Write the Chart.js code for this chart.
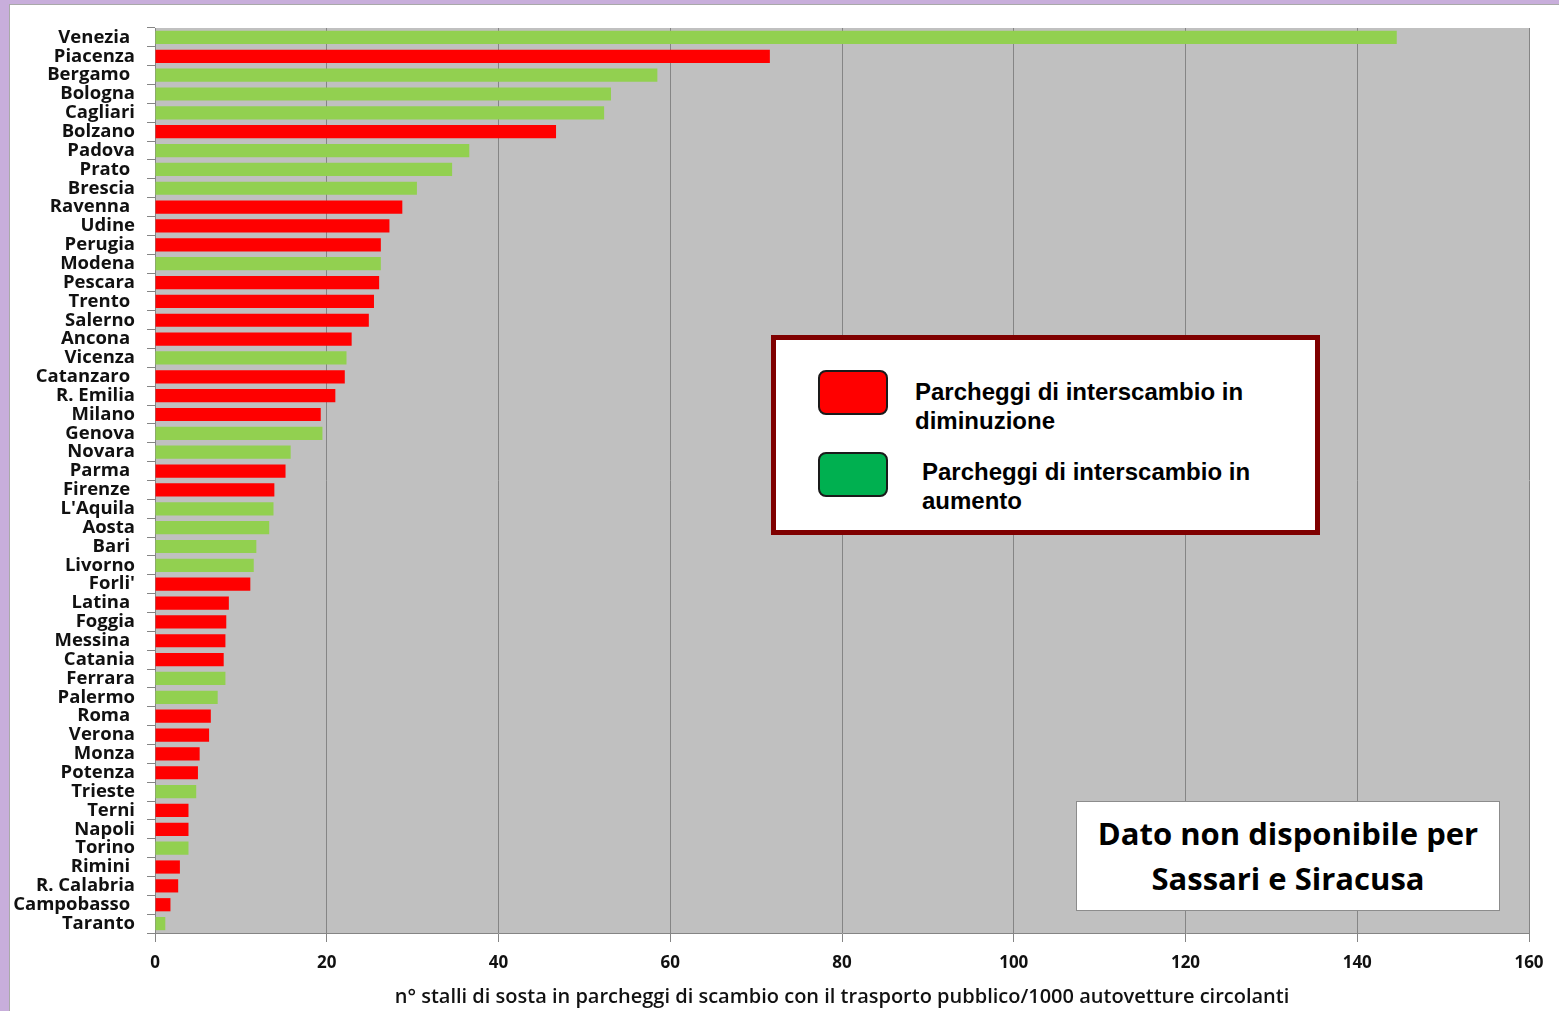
<!DOCTYPE html>
<html>
<head>
<meta charset="utf-8">
<script src="https://cdn.jsdelivr.net/npm/chart.js@4/dist/chart.umd.min.js"></script>
<style>
  html, body { margin:0; padding:0; }
  body { width:1559px; height:1011px; overflow:hidden; background:#c8aedb; position:relative; font-family:"Open Sans", sans-serif; }
  #panel { position:absolute; left:9px; top:4px; width:1550px; height:1007px; background:#fff; border-left:1px solid #a9a9a9; border-top:1px solid #a9a9a9; box-sizing:border-box; }
  #chart { position:absolute; left:0; top:0; }
  #legendBox { position:absolute; left:771px; top:335px; width:549px; height:200px; border:5px solid #7f0000; background:#fff; box-sizing:border-box; }
  .sw { position:absolute; width:70px; height:45px; border:2px solid #1a1a1a; border-radius:8px; box-sizing:border-box; }
  .lt { position:absolute; font-family:"Liberation Sans", Arial, sans-serif; font-weight:bold; font-size:24px; line-height:29px; color:#000; white-space:nowrap; }
  #note { position:absolute; left:1076px; top:801px; width:424px; height:110px; border:1px solid #8c8c8c; background:#fff; box-sizing:border-box; display:flex; align-items:center; justify-content:center; text-align:center; font-family:"Open Sans", sans-serif; font-weight:700; font-size:31px; line-height:45px; color:#000; }
</style>
</head>
<body>
<div id="panel"></div>
<canvas id="chart" width="1559" height="1011"></canvas>
<div id="legendBox"></div>
<div class="sw" style="left:818px; top:370px; background:#ff0000;"></div>
<div class="sw" style="left:818px; top:452px; background:#00b050;"></div>
<div class="lt" style="left:915px; top:377px;">Parcheggi di interscambio in<br>diminuzione</div>
<div class="lt" style="left:922px; top:457px;">Parcheggi di interscambio in<br>aumento</div>
<div id="note"><div>Dato non disponibile per<br>Sassari e Siracusa</div></div>
<script>
const cities = ["Venezia ","Piacenza","Bergamo ","Bologna","Cagliari","Bolzano","Padova","Prato ","Brescia","Ravenna ","Udine","Perugia","Modena","Pescara","Trento ","Salerno","Ancona ","Vicenza","Catanzaro ","R. Emilia","Milano","Genova","Novara","Parma ","Firenze ","L'Aquila","Aosta","Bari ","Livorno","Forli'","Latina ","Foggia","Messina ","Catania","Ferrara","Palermo","Roma ","Verona","Monza","Potenza","Trieste","Terni","Napoli","Torino","Rimini ","R. Calabria","Campobasso ","Taranto"];
const values = [144.6,71.6,58.5,53.1,52.3,46.7,36.6,34.6,30.5,28.8,27.3,26.3,26.3,26.1,25.5,24.9,22.9,22.3,22.1,21.0,19.3,19.5,15.8,15.2,13.9,13.8,13.3,11.8,11.5,11.1,8.6,8.3,8.2,8.0,8.2,7.3,6.5,6.3,5.2,5.0,4.8,3.9,3.9,3.9,2.9,2.7,1.8,1.2];
// D = parcheggi in diminuzione, A = parcheggi in aumento
const trend = ["A","D","A","A","A","D","A","A","A","D","D","D","A","D","D","D","D","A","D","D","D","A","A","D","D","A","A","A","A","D","D","D","D","D","A","A","D","D","D","D","A","D","D","A","D","D","D","A"];
const xTicks = [0,20,40,60,80,100,120,140,160];
const xTitle = "n° stalli di sosta in parcheggi di scambio con il trasporto pubblico/1000 autovetture circolanti";

const trendColors = { D: "#ff0000", A: "#92d050" };

const plotBg = {
  id: "plotBg",
  beforeDraw(chart) {
    const a = chart.chartArea, ctx = chart.ctx;
    ctx.save();
    ctx.fillStyle = "#c0c0c0";
    ctx.fillRect(a.left, a.top, a.right - a.left, a.bottom - a.top);
    ctx.restore();
  }
};

new Chart(document.getElementById("chart"), {
  type: "bar",
  data: {
    labels: cities,
    datasets: [{
      data: values,
      backgroundColor: trend.map(t => trendColors[t]),
      borderWidth: 0,
      barPercentage: 0.7,
      categoryPercentage: 1.0
    }]
  },
  options: {
    indexAxis: "y",
    responsive: false,
    devicePixelRatio: 1,
    animation: false,
    layout: { padding: { left: 10, right: 30, top: 28, bottom: 1 } },
    plugins: { legend: { display: false }, tooltip: { enabled: false } },
    scales: {
      x: {
        min: 0, max: 160,
        afterBuildTicks(scale) { scale.ticks = xTicks.map(v => ({ value: v })); },
        afterFit(scale) { scale.height = 77; },
        grid: { color: "#858585", lineWidth: 1, tickLength: 9, drawTicks: true },
        border: { color: "#858585" },
        ticks: { color: "#111", font: { family: "Open Sans", weight: "bold", size: 17 }, padding: 11, maxRotation: 0 },
        title: { display: true, text: xTitle, color: "#111", font: { family: "Open Sans", weight: "600", size: 20 }, padding: { top: 0, bottom: 1 } }
      },
      y: {
        afterFit(scale) { scale.width = 145; },
        grid: { drawOnChartArea: false, drawTicks: true, tickLength: 8, color: "#858585", offset: true },
        border: { color: "#858585" },
        ticks: { autoSkip: false, color: "#111", font: { family: "Open Sans", weight: "bold", size: 18.5 }, padding: 12 }
      }
    }
  },
  plugins: [plotBg]
});
</script>
</body>
</html>
